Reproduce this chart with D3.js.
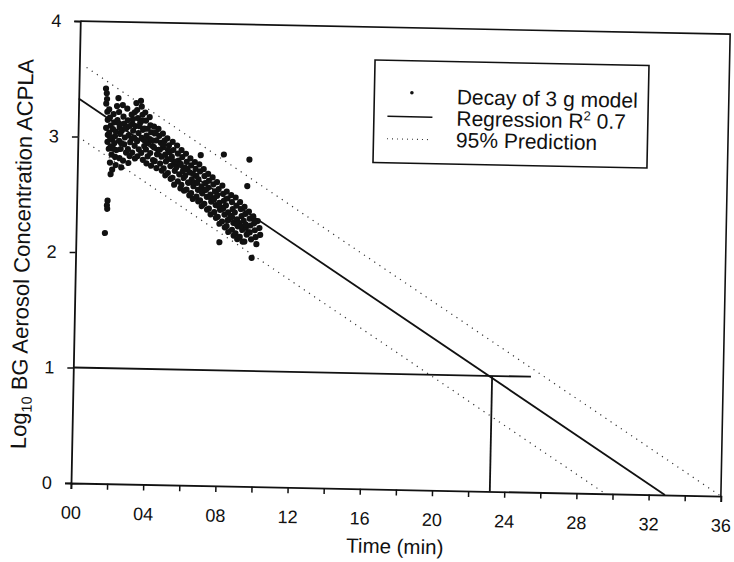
<!DOCTYPE html>
<html>
<head>
<meta charset="utf-8">
<script src="https://cdn.jsdelivr.net/npm/d3@7"></script>
<style>
  body { margin: 0; background: #fff; }
  svg text { font-family: "Liberation Sans", Arial, Helvetica, sans-serif; fill: #111; }
</style>
</head>
<body>
<svg id="chart" width="734" height="562"></svg>
<script>
// Decay of 3 g model: [time (min), log10 concentration]
const decayPoints = [
  [1.5,3.42],[1.55,3.38],[1.57,3.33],[1.53,3.29],[1.6,3.22],[1.63,3.15],[1.55,3.08],[1.65,3.02],[1.64,2.96],[1.72,2.9],
  [1.71,2.45],[1.68,2.41],[1.7,2.38],[1.6,2.17],
  [1.7,3.24],[1.75,3.17],[1.8,3.1],[1.73,3.04],[1.9,2.98],[1.82,2.92],[1.88,2.85],[1.8,2.78],[1.93,2.72],[1.85,2.68],
  [1.95,3.2],[2.0,3.13],[1.93,3.07],[2.05,3.01],[2.02,2.95],[2.15,2.89],[2.08,2.83],[2.12,2.76],[2.13,3.27],
  [2.2,3.34],[2.25,3.22],[2.17,3.15],[2.3,3.09],[2.35,3.03],[2.28,2.97],[2.38,2.9],[2.32,2.82],[2.43,2.74],
  [2.45,3.28],[2.5,3.18],[2.55,3.12],[2.43,3.06],[2.6,3.0],[2.57,2.94],[2.68,2.87],[2.52,2.8],
  [2.7,3.25],[2.75,3.15],[2.67,3.08],[2.8,3.02],[2.9,2.96],[2.78,2.9],[2.88,2.84],[2.82,2.78],
  [2.95,3.2],[3.0,3.12],[3.05,3.06],[2.98,2.99],[3.15,2.93],[3.02,2.87],[3.18,2.82],[3.03,3.16],
  [3.2,3.3],[3.25,3.24],[3.3,3.17],[3.17,3.1],[3.35,3.04],[3.28,2.97],[3.38,2.9],[3.32,2.84],
  [3.45,3.32],[3.5,3.27],[3.55,3.2],[3.43,3.13],[3.6,3.07],[3.53,3.0],[3.68,2.93],[3.52,2.87],[3.62,2.81],
  [3.7,3.22],[3.75,3.15],[3.67,3.08],[3.8,3.02],[3.9,2.96],[3.78,2.9],[3.88,2.84],[3.82,2.78],
  [3.95,3.18],[4.0,3.11],[4.05,3.05],[3.98,2.99],[4.15,2.93],[4.02,2.87],[4.18,2.81],[4.08,2.76],
  [4.2,3.1],[4.25,3.04],[4.35,2.98],[4.22,2.92],[4.4,2.86],[4.28,2.8],[4.38,2.74],
  [4.45,3.08],[4.5,3.02],[4.6,2.96],[4.48,2.9],[4.65,2.84],[4.58,2.78],[4.68,2.72],
  [4.7,3.04],[4.8,2.98],[4.72,2.92],[4.85,2.86],[4.9,2.8],[4.78,2.74],[4.88,2.68],
  [4.95,3.0],[5.05,2.94],[5.1,2.88],[4.98,2.82],[5.15,2.76],[5.02,2.7],[5.18,2.65],
  [5.25,2.97],[5.3,2.9],[5.22,2.84],[5.35,2.78],[5.4,2.72],[5.28,2.66],[5.38,2.6],
  [5.5,2.94],[5.55,2.87],[5.6,2.81],[5.48,2.75],[5.65,2.69],[5.58,2.63],[5.73,2.57],
  [5.75,2.9],[5.8,2.84],[5.72,2.78],[5.85,2.72],[5.9,2.66],[5.78,2.6],[5.93,2.55],
  [6.0,2.87],[6.05,2.8],[6.1,2.74],[5.98,2.68],[6.15,2.62],[6.07,2.56],[6.23,2.51],
  [6.25,2.83],[6.3,2.77],[6.22,2.71],[6.35,2.65],[6.45,2.59],[6.33,2.53],[6.43,2.48],
  [6.5,2.8],[6.55,2.74],[6.6,2.68],[6.48,2.62],[6.7,2.56],[6.63,2.5],[6.73,2.46],
  [6.75,2.78],[6.8,2.72],[6.72,2.65],[6.9,2.59],[6.95,2.53],[6.83,2.47],[6.93,2.42],[6.82,2.86],
  [7.0,2.74],[7.05,2.68],[7.1,2.62],[7.03,2.56],[7.2,2.5],[7.07,2.44],[7.23,2.39],
  [7.25,2.7],[7.3,2.64],[7.27,2.58],[7.4,2.52],[7.45,2.46],[7.33,2.4],[7.43,2.35],
  [7.5,2.67],[7.55,2.61],[7.65,2.55],[7.53,2.49],[7.7,2.43],[7.63,2.37],[7.73,2.32],
  [7.75,2.63],[7.85,2.57],[7.77,2.51],[7.9,2.45],[7.95,2.39],[7.83,2.33],[7.93,2.27],
  [8.05,2.6],[8.1,2.53],[8.15,2.47],[8.03,2.41],[8.2,2.35],[8.07,2.29],[8.23,2.24],[8.1,2.87],
  [8.3,2.55],[8.35,2.49],[8.27,2.43],[8.4,2.37],[8.45,2.31],[8.33,2.25],[8.43,2.2],
  [8.55,2.52],[8.6,2.46],[8.65,2.4],[8.53,2.34],[8.7,2.28],[8.63,2.22],[8.73,2.17],
  [8.8,2.5],[8.85,2.43],[8.77,2.37],[8.9,2.31],[8.95,2.25],[8.83,2.19],[8.93,2.14],
  [9.05,2.46],[9.1,2.4],[9.15,2.34],[9.03,2.28],[9.2,2.22],[9.07,2.16],[9.23,2.12],
  [9.3,2.42],[9.35,2.36],[9.27,2.3],[9.4,2.24],[9.45,2.18],[9.33,2.12],[9.43,2.6],
  [9.55,2.38],[9.6,2.32],[9.65,2.26],[9.53,2.2],[9.7,2.14],[9.52,2.83],[9.75,1.98],
  [9.8,2.34],[9.85,2.28],[9.9,2.22],[9.95,2.16],[10.05,2.3],[10.15,2.24],[10.0,2.1],[10.2,2.18],
  [7.95,2.11],
  [1.78,3.0],[1.98,2.9],[2.1,3.05],[2.27,3.12],[2.4,2.95],[2.62,3.08],[2.85,3.1],[3.1,3.0],[3.12,3.22],
  [3.4,3.1],[3.58,3.15],[3.72,2.98],[3.85,3.08],[4.1,2.98],[4.3,3.05],[4.55,2.9],[4.75,2.95],[5.0,2.9],
  [5.2,2.82],[5.45,2.8],[5.7,2.78],[5.95,2.75],[6.2,2.62],[6.4,2.7],[6.65,2.62],[6.88,2.55],[7.15,2.56],
  [7.38,2.5],[7.6,2.48],[7.88,2.42],[8.12,2.4],[8.38,2.3],[8.62,2.33],[8.88,2.27],[9.12,2.25],[9.38,2.27],
  [9.62,2.2],[9.88,2.3]
];

// Lines: [time, log10 concentration] end points
const regressionLine = [[0, 3.33], [32.9, 0]];
const upperPrediction = [[0.4, 3.6], [36, 0]];
const lowerPrediction = [[0, 3.0], [29.6, 0]];
const levelLine = [[0, 1], [25.35, 1]];
const timeLine = [[23.2, 0], [23.2, 1]];

// Axes
const xTicks = d3.range(0, 37, 2);
const xTickLabels = ['00', '04', '08', '12', '16', '20', '24', '28', '32', '36'];
const yTicks = [0, 1, 2, 3, 4];

const legendItems = ['Decay of 3 g model', 'Regression R', '95% Prediction'];

const margin = { left: 71, top: 21 };
const width = 650;
const height = 462;

const svg = d3.select('#chart');

// scanned figure is slightly tilted
const root = svg.append('g')
    .attr('transform', `rotate(1.15, ${margin.left}, ${margin.top + height})`);

const g = root.append('g')
    .attr('transform', `translate(${margin.left},${margin.top})`);

const x = d3.scaleLinear().domain([0, 36]).range([0, width]);
const y = d3.scaleLinear().domain([0, 4]).range([height, 0]);

// frame
g.append('path')
    .attr('d', `M0,0H${width}V${height}`)
    .attr('fill', 'none')
    .attr('stroke', '#111')
    .attr('stroke-width', 1.6);

// x axis
const xAxis = g.append('g')
    .attr('transform', `translate(0,${height})`)
    .call(d3.axisBottom(x).tickValues(xTicks).tickSize(6).tickPadding(17)
        .tickFormat(d => (d % 4 === 0 ? xTickLabels[d / 4] : '')));
xAxis.select('.domain').attr('stroke', '#111').attr('stroke-width', 1.8);
xAxis.selectAll('.tick line').attr('stroke', '#111').attr('stroke-width', 1.5);
xAxis.selectAll('.tick text').attr('font-size', 18).attr('fill', '#111');

// y axis
const yAxis = g.append('g')
    .call(d3.axisLeft(y).tickValues(yTicks).tickSize(6).tickPadding(13).tickFormat(d3.format('d')));
yAxis.select('.domain').attr('stroke', '#111').attr('stroke-width', 1.8);
yAxis.selectAll('.tick line').attr('stroke', '#111').attr('stroke-width', 1.5);
yAxis.selectAll('.tick text').attr('font-size', 18).attr('fill', '#111');

const line = d3.line().x(d => x(d[0])).y(d => y(d[1]));

// prediction bands
[upperPrediction, lowerPrediction].forEach(pts => {
    g.append('path')
        .attr('d', line(pts))
        .attr('fill', 'none')
        .attr('stroke', '#333')
        .attr('stroke-width', 1.2)
        .attr('stroke-dasharray', '1.2 5');
});

// regression and reference lines
[regressionLine, levelLine, timeLine].forEach(pts => {
    g.append('path')
        .attr('d', line(pts))
        .attr('fill', 'none')
        .attr('stroke', '#111')
        .attr('stroke-width', 1.8);
});

// data points
g.append('g')
    .selectAll('circle')
    .data(decayPoints)
    .enter()
    .append('circle')
        .attr('cx', d => x(d[0]))
        .attr('cy', d => y(d[1]))
        .attr('r', 3.1)
        .attr('fill', '#111');

// axis titles
g.append('text')
    .attr('x', width / 2)
    .attr('y', height + 64)
    .attr('text-anchor', 'middle')
    .attr('font-size', 20.5)
    .text('Time (min)');

const yTitle = root.append('text')
    .attr('transform', `translate(25,${margin.top + height / 2 + 3}) rotate(-90)`)
    .attr('text-anchor', 'middle')
    .attr('font-size', 22);
yTitle.append('tspan').text('Log');
yTitle.append('tspan').attr('font-size', 14.5).attr('dy', 5).text('10');
yTitle.append('tspan').attr('dy', -5).text(' BG Aerosol Concentration ACPLA');

// legend
const legend = root.append('g');
legend.append('rect')
    .attr('x', 366.5).attr('y', 54)
    .attr('width', 274).attr('height', 102.5)
    .attr('fill', '#fff')
    .attr('stroke', '#111')
    .attr('stroke-width', 1.6);

legend.append('circle')
    .attr('cx', 404).attr('cy', 86).attr('r', 1.8).attr('fill', '#111');
legend.append('line')
    .attr('x1', 380).attr('x2', 425).attr('y1', 110).attr('y2', 110)
    .attr('stroke', '#111').attr('stroke-width', 1.5);
legend.append('line')
    .attr('x1', 380).attr('x2', 425).attr('y1', 132.5).attr('y2', 132.5)
    .attr('stroke', '#333').attr('stroke-width', 1.1).attr('stroke-dasharray', '1 4');

legend.selectAll('text.item')
    .data(legendItems)
    .enter()
    .append('text')
        .attr('class', 'item')
        .attr('x', 449)
        .attr('y', (d, i) => 96.5 + i * 21.5)
        .attr('font-size', 21)
        .each(function (d, i) {
            const t = d3.select(this);
            t.append('tspan').text(d);
            if (i === 1) {
                t.append('tspan').attr('font-size', 13).attr('dy', -8).text('2');
                t.append('tspan').attr('dy', 8).text(' 0.7');
            }
        });
</script>
</body>
</html>
